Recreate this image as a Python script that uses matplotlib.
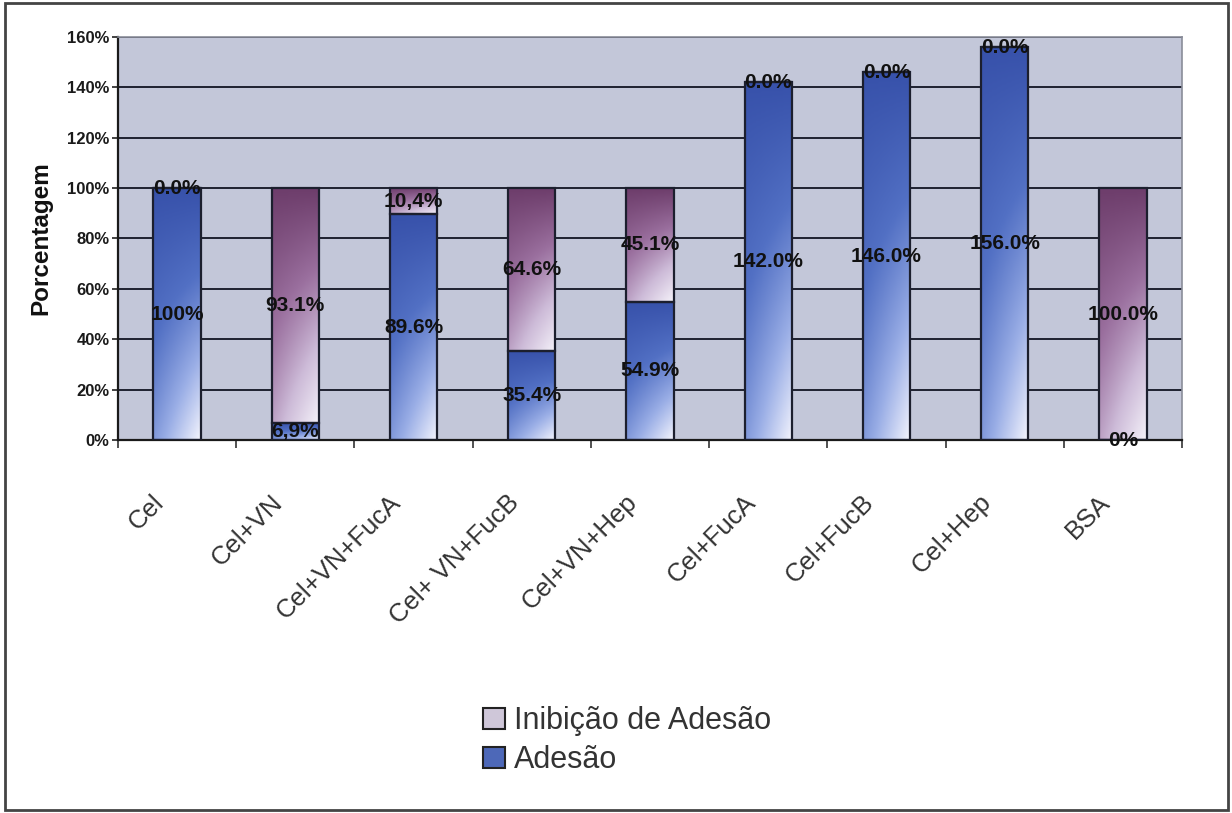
import numpy as np
import matplotlib
matplotlib.use("Agg")
import matplotlib.pyplot as plt
from matplotlib.colors import LinearSegmentedColormap
from matplotlib.patches import Patch, Rectangle
from matplotlib.transforms import ScaledTranslation

plt.rcParams['font.family'] = ['Liberation Sans', 'DejaVu Sans']

categories = ["Cel", "Cel+VN", "Cel+VN+FucA", "Cel+ VN+FucB", "Cel+VN+Hep",
              "Cel+FucA", "Cel+FucB", "Cel+Hep", "BSA"]
adesao = [100.0, 6.9, 89.6, 35.4, 54.9, 142.0, 146.0, 156.0, 0.0]
inibicao = [0.0, 93.1, 10.4, 64.6, 45.1, 0.0, 0.0, 0.0, 100.0]
adesao_labels = ["100%", "6,9%", "89.6%", "35.4%", "54.9%", "142.0%", "146.0%", "156.0%", "0%"]
inibicao_labels = ["0.0%", "93.1%", "10,4%", "64.6%", "45.1%", "0.0%", "0.0%", "0.0%", "100.0%"]
yticks = [0, 20, 40, 60, 80, 100, 120, 140, 160]

W, H = 1232, 813
fig = plt.figure(figsize=(W / 100, H / 100), dpi=100)
fig.patch.set_facecolor('white')
ax = fig.add_axes([118 / W, 1 - 440 / H, (1182 - 118) / W, (440 - 37) / H])
ax.set_facecolor('#c3c7d9')

x = np.arange(len(categories))
bw = 0.4
edge = '#1c1f2e'
b1 = ax.bar(x, adesao, width=bw, color='none', edgecolor=edge, linewidth=1.6, zorder=3)
b2 = ax.bar(x, inibicao, bottom=adesao, width=bw, color='none', edgecolor=edge,
            linewidth=1.6, zorder=3)

blue_cmap = LinearSegmentedColormap.from_list('b', ['#3852ab', '#5270c4', '#9aaee6', '#f2f3fd'])
pink_cmap = LinearSegmentedColormap.from_list('p', ['#6e3e6c', '#9a6f9e', '#cdbbd8', '#f4f1f9'])

ny, nx = 60, 30
vv, hh = np.mgrid[0:1:ny * 1j, 0:1:nx * 1j]
grad = vv * (0.55 + 0.45 * hh)

for cont, cmap in ((b1, blue_cmap), (b2, pink_cmap)):
    for p in cont.patches:
        h = p.get_height()
        if h <= 0:
            continue
        x0, y0, w = p.get_x(), p.get_y(), p.get_width()
        im = ax.imshow(grad, cmap=cmap, extent=[x0, x0 + w, y0, y0 + h], origin='upper',
                       aspect='auto', zorder=2, interpolation='bilinear', vmin=0, vmax=1)
        im.set_clip_path(p)

ax.bar_label(b1, labels=adesao_labels, label_type='center', fontsize=15,
             fontweight='bold', color='#111111', zorder=5)
ax.bar_label(b2, labels=inibicao_labels, label_type='center', fontsize=15,
             fontweight='bold', color='#111111', zorder=5)

ax.set_xlim(-0.5, len(categories) - 0.5)
ax.set_ylim(0, 160)
ax.set_yticks(yticks)
ax.set_yticklabels([f"{v}%" for v in yticks])
ax.yaxis.grid(True, color='#1e2130', linewidth=1.4, zorder=1)
ax.set_axisbelow(True)

for lab in ax.get_yticklabels():
    lab.set_fontweight('bold')
    lab.set_fontsize(12)
    lab.set_color('#1a1a1a')
ax.tick_params(axis='y', length=4, width=1.2, color='#222', pad=2)

ax.set_xticks(x)
ax.set_xticklabels(categories, rotation=45, ha='right', va='top', rotation_mode='anchor',
                   fontsize=18.5, color='#333333')
ax.set_xticks(np.arange(-0.5, len(categories), 1), minor=True)
ax.tick_params(axis='x', which='major', length=0, pad=36)
ax.tick_params(axis='x', which='minor', length=6, width=1.2, color='#333', direction='out')
off = ScaledTranslation(-0.25, 0, fig.dpi_scale_trans)
for lab in ax.get_xticklabels():
    lab.set_transform(lab.get_transform() + off)

for s in ('left', 'bottom'):
    ax.spines[s].set_color('#1a1a1a')
    ax.spines[s].set_linewidth(1.6)
for s in ('top', 'right'):
    ax.spines[s].set_color('#8a8d99')
    ax.spines[s].set_linewidth(1.2)

ax.set_ylabel('Porcentagem', fontsize=17.5, fontweight='bold', color='#111')
ax.yaxis.set_label_coords(-0.062, 0.5)

handles = [Patch(facecolor='#cfc7d9', edgecolor='#222', linewidth=1.5, label='Inibição de Adesão'),
           Patch(facecolor='#4d68b8', edgecolor='#222', linewidth=1.5, label='Adesão')]
leg = fig.legend(handles=handles, loc='upper left', bbox_to_anchor=(468 / W, 1 - 691 / H),
                 frameon=False, fontsize=22, handlelength=0.7, handleheight=0.7,
                 handletextpad=0.3, labelspacing=0.3, borderpad=0)
for t in leg.get_texts():
    t.set_color('#333333')

fig.add_artist(Rectangle((5 / W, 3 / H), (1228 - 5) / W, (810 - 3) / H, transform=fig.transFigure,
                         fill=False, edgecolor='#444444', linewidth=2))

fig.savefig('out.png', dpi=100)
